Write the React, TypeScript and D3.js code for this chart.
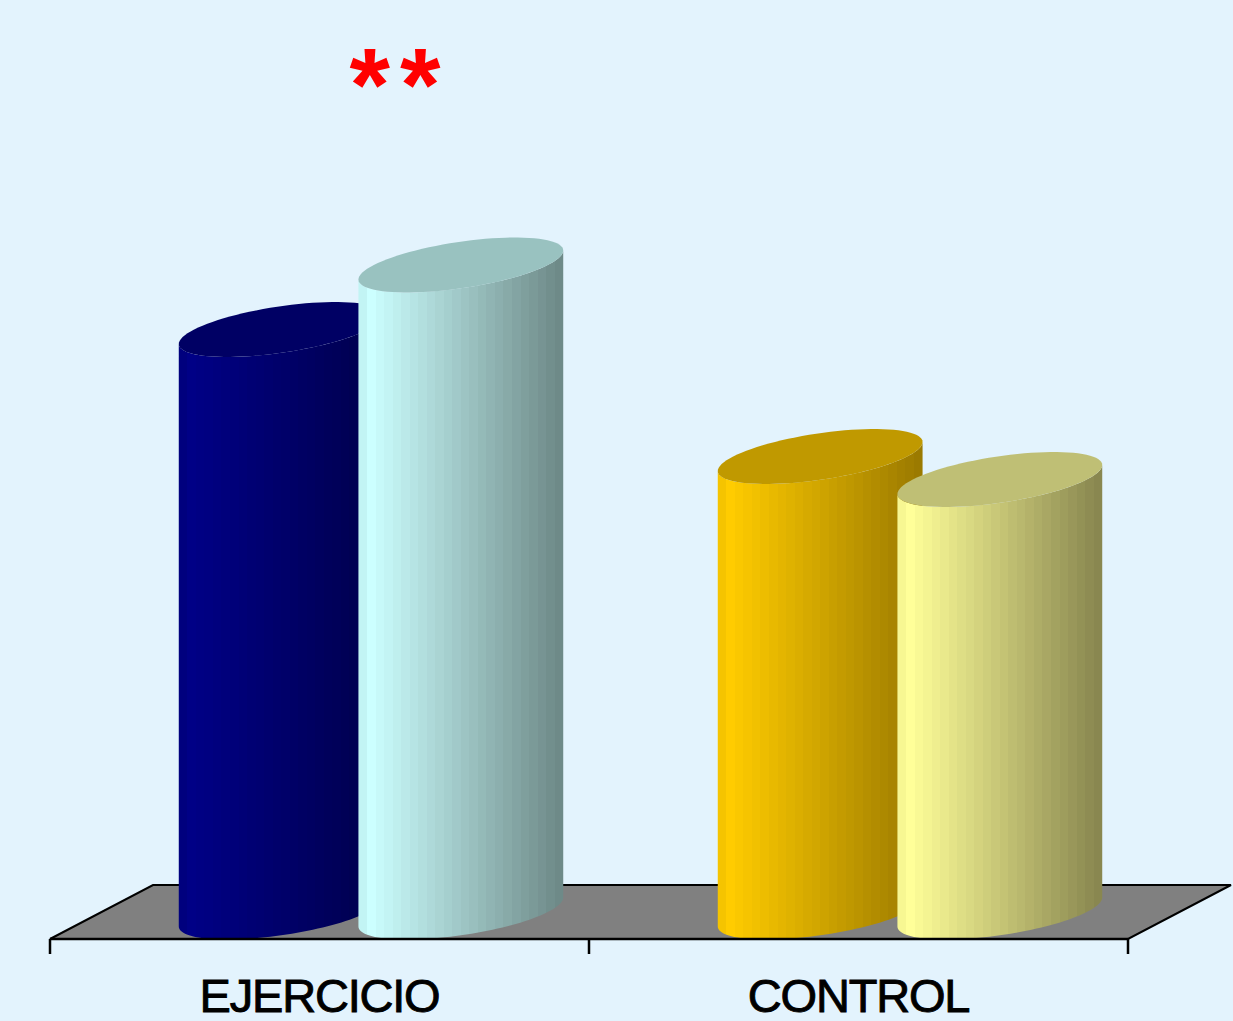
import React from 'react';
import * as d3 from 'd3';

// ---- data ----
const categories: string[] = ['EJERCICIO', 'CONTROL'];
const seriesNames: string[] = ['Pre', 'Post'];
const valuesPre: number[] = [58.25, 45.55];
const valuesPost: number[] = [64.7, 43.25];
const significance: string[] = ['**', ''];

// colours: [left edge, highlight, right edge], top face
const bodyColors: string[][][] = [
  [['#00007a', '#000086', '#00004a'], ['#bdeeee', '#ccffff', '#6c8785']],
  [['#f0c000', '#ffcc00', '#997800'], ['#f2f28e', '#ffff99', '#86844e']],
];
const topColors: string[][] = [
  ['#000064', '#99c2c0'],
  ['#c09900', '#bfbf75'],
];

const WIDTH = 1233;
const HEIGHT = 1021;
const BG = '#e3f3fd';

const floorFrontY = 939;
const floorDX = 103;
const floorDY = 54;
const baseY = floorFrontY - floorDY / 2;

const R = 87;
const cylDX = 54;
const cylDY = 27.5;

const x0 = d3.scaleBand<string>().domain(categories).range([50, 1128]).paddingInner(0).paddingOuter(0);
const x1 = d3.scaleBand<string>().domain(seriesNames).range([0, x0.bandwidth()]).paddingInner(0).paddingOuter(0.5);
const y = d3.scaleLinear().domain([0, 100]).range([baseY, baseY - 1000]);

const line = d3.line<[number, number]>().x(d => d[0]).y(d => d[1]);

function pt(cx: number, cy: number, t: number): [number, number] {
  return [cx + R * Math.cos(t) + cylDX * Math.sin(t), cy - cylDY * Math.sin(t)];
}

function arc(cx: number, cy: number, t0: number, t1: number, n = 60): [number, number][] {
  const pts: [number, number][] = [];
  for (let i = 0; i <= n; i++) pts.push(pt(cx, cy, t0 + ((t1 - t0) * i) / n));
  return pts;
}

function Cylinder({ cx, yTop, id, colors, top }: { cx: number; yTop: number; id: string; colors: string[]; top: string }) {
  const phi = Math.atan2(cylDX, R);
  const tL = Math.PI + phi;
  const tR = 2 * Math.PI + phi;
  const half = Math.sqrt(R * R + cylDX * cylDX);
  const body: [number, number][] = [
    ...arc(cx, baseY, tL, tR),
    ...arc(cx, yTop, tR, tL),
  ];
  const topPts = arc(cx, yTop, 0, 2 * Math.PI, 90);
  const n = 24;
  const peak = 0.06;
  const iA = d3.interpolateRgb(colors[0], colors[1]);
  const iB = d3.interpolateRgb(colors[1], colors[2]);
  const stops: { o: number; c: string }[] = [];
  for (let i = 0; i < n; i++) {
    const u = (i + 0.5) / n;
    const c = u < peak ? iA(u / peak) : iB((u - peak) / (1 - peak));
    stops.push({ o: i / n, c });
    stops.push({ o: (i + 1) / n, c });
  }
  return (
    <g>
      <defs>
        <linearGradient id={id} gradientUnits="userSpaceOnUse" x1={cx - half} x2={cx + half} y1={0} y2={0}>
          {stops.map((s, i) => (
            <stop key={i} offset={s.o} stopColor={s.c} />
          ))}
        </linearGradient>
      </defs>
      <path d={line(body) + 'Z'} fill={`url(#${id})`} />
      <path d={line(topPts) + 'Z'} fill={top} />
    </g>
  );
}

export default function App() {
  const values = [valuesPre, valuesPost];
  const floor: [number, number][] = [
    [50, floorFrontY],
    [1128, floorFrontY],
    [1128 + floorDX, floorFrontY - floorDY],
    [50 + floorDX, floorFrontY - floorDY],
  ];
  const ticks = [50, ...categories.map(c => (x0(c) as number) + x0.bandwidth())];
  return (
    <svg width={WIDTH} height={HEIGHT} style={{ position: 'fixed', left: 0, top: 0, display: 'block' }}>
      <rect x={0} y={0} width={WIDTH} height={HEIGHT} fill={BG} />
      <path d={line(floor) + 'Z'} fill="#808080" stroke="#000" strokeWidth={2} />
      {categories.map((c, ci) =>
        seriesNames.map((s, si) => {
          const cx = (x0(c) as number) + (x1(s) as number) + x1.bandwidth() / 2 + floorDX / 2;
          return (
            <Cylinder
              key={c + s}
              id={`g${ci}${si}`}
              cx={cx}
              yTop={y(values[si][ci])}
              colors={bodyColors[ci][si]}
              top={topColors[ci][si]}
            />
          );
        })
      )}
      <line x1={50} x2={1128} y1={floorFrontY} y2={floorFrontY} stroke="#000" strokeWidth={2.5} />
      {ticks.map((t, i) => (
        <line key={i} x1={t} x2={t} y1={floorFrontY} y2={floorFrontY + 15} stroke="#000" strokeWidth={2.5} />
      ))}
      {categories.map(c => (
        <text
          key={c}
          x={(x0(c) as number) + x0.bandwidth() / 2}
          y={1012}
          textAnchor="middle"
          fontFamily="'Liberation Sans', Arial, sans-serif"
          fontSize={47}
          letterSpacing={-1.2}
          fill="#000"
          stroke="#000"
          strokeWidth={0.9}
        >
          {c}
        </text>
      ))}
      {categories.map((c, ci) =>
        significance[ci] ? (
          <text
            key={'s' + c}
            x={400}
            y={121}
            textAnchor="middle"
            fontFamily="'Liberation Sans', Arial, sans-serif"
            fontWeight="bold"
            fontSize={104}
            letterSpacing={10}
            fill="#ff0000"
          >
            {significance[ci]}
          </text>
        ) : null
      )}
    </svg>
  );
}
